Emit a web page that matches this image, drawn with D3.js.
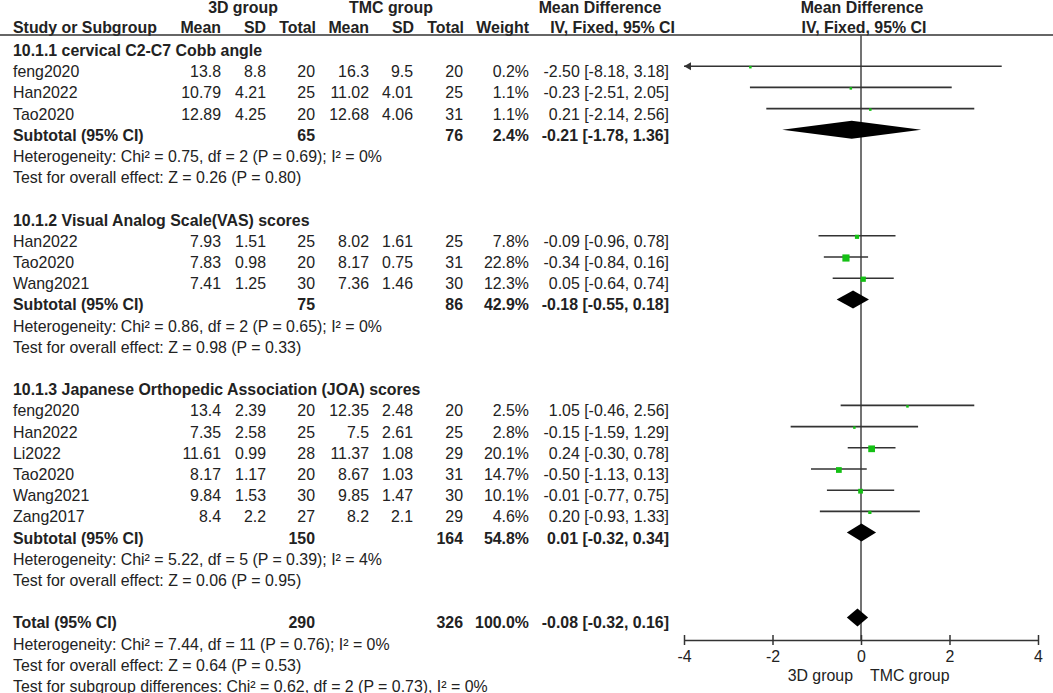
<!DOCTYPE html>
<html>
<head>
<meta charset="utf-8">
<script src="https://cdn.jsdelivr.net/npm/d3@7"></script>
<style>
    body { margin: 0; background: #fff; }
    svg text { font-family: "Liberation Sans", Arial, sans-serif; font-size: 15.9px; fill: #222; }
    .b { font-weight: bold; }
</style>
</head>
<body>
<div id="main"></div>
<script>
// subgroups
var groupTitles = ["10.1.1 cervical C2-C7 Cobb angle", "10.1.2 Visual Analog Scale(VAS) scores",
    "10.1.3 Japanese Orthopedic Association (JOA) scores"];

// studies (group index links them to a subgroup)
var studyGroup = [0, 0, 0, 1, 1, 1, 2, 2, 2, 2, 2, 2];
var studyNames = ["feng2020", "Han2022", "Tao2020", "Han2022", "Tao2020", "Wang2021",
    "feng2020", "Han2022", "Li2022", "Tao2020", "Wang2021", "Zang2017"];
var mean3D = [13.8, 10.79, 12.89, 7.93, 7.83, 7.41, 13.4, 7.35, 11.61, 8.17, 9.84, 8.4];
var sd3D = [8.8, 4.21, 4.25, 1.51, 0.98, 1.25, 2.39, 2.58, 0.99, 1.17, 1.53, 2.2];
var n3D = [20, 25, 20, 25, 20, 30, 20, 25, 28, 20, 30, 27];
var meanTMC = [16.3, 11.02, 12.68, 8.02, 8.17, 7.36, 12.35, 7.5, 11.37, 8.67, 9.85, 8.2];
var sdTMC = [9.5, 4.01, 4.06, 1.61, 0.75, 1.46, 2.48, 2.61, 1.08, 1.03, 1.47, 2.1];
var nTMC = [20, 25, 31, 25, 31, 30, 20, 25, 29, 31, 30, 29];
var weights = [0.2, 1.1, 1.1, 7.8, 22.8, 12.3, 2.5, 2.8, 20.1, 14.7, 10.1, 4.6];
var md = [-2.50, -0.23, 0.21, -0.09, -0.34, 0.05, 1.05, -0.15, 0.24, -0.50, -0.01, 0.20];
var ciLow = [-8.18, -2.51, -2.14, -0.96, -0.84, -0.64, -0.46, -1.59, -0.30, -1.13, -0.77, -0.93];
var ciHigh = [3.18, 2.05, 2.56, 0.78, 0.16, 0.74, 2.56, 1.29, 0.78, 0.13, 0.75, 1.33];

// subtotals
var subN3D = [65, 75, 150];
var subNTMC = [76, 86, 164];
var subWeight = [2.4, 42.9, 54.8];
var subMD = [-0.21, -0.18, 0.01];
var subLow = [-1.78, -0.55, -0.32];
var subHigh = [1.36, 0.18, 0.34];
var subHet = ["Heterogeneity: Chi² = 0.75, df = 2 (P = 0.69); I² = 0%",
    "Heterogeneity: Chi² = 0.86, df = 2 (P = 0.65); I² = 0%",
    "Heterogeneity: Chi² = 5.22, df = 5 (P = 0.39); I² = 4%"];
var subEffect = ["Test for overall effect: Z = 0.26 (P = 0.80)",
    "Test for overall effect: Z = 0.98 (P = 0.33)",
    "Test for overall effect: Z = 0.06 (P = 0.95)"];

// overall
var totalN = [290, 326];
var totalWeight = 100.0;
var totalMD = [-0.08, -0.32, 0.16];
var totalNotes = ["Heterogeneity: Chi² = 7.44, df = 11 (P = 0.76); I² = 0%",
    "Test for overall effect: Z = 0.64 (P = 0.53)",
    "Test for subgroup differences: Chi² = 0.62, df = 2 (P = 0.73), I² = 0%"];

var axisTicks = [-4, -2, 0, 2, 4];
var favourLabels = ["3D group", "TMC group"];

var width = 1053, height = 693;
var rowH = 21.2, rowTop = 45, textOff = 11;
var colRight = {mean1: 221, sd1: 266, n1: 315, mean2: 369, sd2: 413, n2: 463, w: 529, ci: 669};
var lineColor = "#333";
var boxColor = "#14c014";

var svg = d3.select('#main').append('svg').attr('width', width).attr('height', height);
var x = d3.scaleLinear().domain([-4, 4]).range([684, 1038]);

function lineY(r) { return rowTop + r * rowH; }
function ciText(m, lo, hi) { return m.toFixed(2) + " [" + lo.toFixed(2) + ", " + hi.toFixed(2) + "]"; }

function txt(str, xp, yp, anchor, bold) {
    svg.append("text").attr("x", xp).attr("y", yp)
        .attr("text-anchor", anchor || "start")
        .attr("class", bold ? "b" : null)
        .text(str);
}

// header
txt("3D group", 243, 13, "middle", true);
txt("TMC group", 391, 13, "middle", true);
txt("Mean Difference", 600, 13, "middle", true);
txt("Mean Difference", 862, 13, "middle", true);
txt("Study or Subgroup", 13, 33, "start", true);
txt("Mean", colRight.mean1, 33, "end", true);
txt("SD", colRight.sd1, 33, "end", true);
txt("Total", colRight.n1 + 1, 33, "end", true);
txt("Mean", colRight.mean2, 33, "end", true);
txt("SD", colRight.sd2 + 1, 33, "end", true);
txt("Total", colRight.n2 + 1, 33, "end", true);
txt("Weight", colRight.w, 33, "end", true);
txt("IV, Fixed, 95% CI", 675, 33, "end", true);
txt("IV, Fixed, 95% CI", 864, 33, "middle", true);

svg.append("line").attr("x1", 0).attr("x2", width).attr("y1", 35).attr("y2", 35)
    .attr("stroke", lineColor).attr("stroke-width", 1.5);

// zero line
svg.append("line").attr("x1", x(0)).attr("x2", x(0)).attr("y1", 35).attr("y2", 640)
    .attr("stroke", "#444").attr("stroke-width", 1.5);

function diamond(r, m, lo, hi) {
    var y = lineY(r);
    svg.append("polygon")
        .attr("points", [[x(lo), y], [x(m), y - 9], [x(hi), y], [x(m), y + 9]].join(" "))
        .attr("fill", "#000");
}

var r = 0;
for (var g = 0; g < groupTitles.length; g++) {
    txt(groupTitles[g], 13, lineY(r) + textOff, "start", true);
    r++;
    for (var i = 0; i < studyNames.length; i++) {
        if (studyGroup[i] !== g) continue;
        var ty = lineY(r) + textOff;
        txt(studyNames[i], 13, ty);
        txt(String(mean3D[i]), colRight.mean1, ty, "end");
        txt(String(sd3D[i]), colRight.sd1, ty, "end");
        txt(String(n3D[i]), colRight.n1, ty, "end");
        txt(String(meanTMC[i]), colRight.mean2, ty, "end");
        txt(String(sdTMC[i]), colRight.sd2, ty, "end");
        txt(String(nTMC[i]), colRight.n2, ty, "end");
        txt(weights[i].toFixed(1) + "%", colRight.w, ty, "end");
        txt(ciText(md[i], ciLow[i], ciHigh[i]), colRight.ci, ty, "end");

        // CI line, clipped to the axis with an arrow
        var ly = lineY(r);
        var lo = Math.max(ciLow[i], x.domain()[0]), hi = Math.min(ciHigh[i], x.domain()[1]);
        svg.append("line").attr("x1", x(lo)).attr("x2", x(hi)).attr("y1", ly).attr("y2", ly)
            .attr("stroke", lineColor).attr("stroke-width", 1.6);
        if (ciLow[i] < x.domain()[0]) {
            svg.append("polygon")
                .attr("points", [[x(lo), ly], [x(lo) + 7, ly - 4], [x(lo) + 7, ly + 4]].join(" "))
                .attr("fill", lineColor);
        }
        var s = Math.max(2.5, 1.5 * Math.sqrt(weights[i]));
        svg.append("rect").attr("x", x(md[i]) - s / 2).attr("y", ly - s / 2 + 1)
            .attr("width", s).attr("height", s).attr("fill", boxColor);
        r++;
    }
    var sy = lineY(r) + textOff;
    txt("Subtotal (95% CI)", 13, sy, "start", true);
    txt(String(subN3D[g]), colRight.n1, sy, "end", true);
    txt(String(subNTMC[g]), colRight.n2, sy, "end", true);
    txt(subWeight[g].toFixed(1) + "%", colRight.w, sy, "end", true);
    txt(ciText(subMD[g], subLow[g], subHigh[g]), colRight.ci, sy, "end", true);
    diamond(r, subMD[g], subLow[g], subHigh[g]);
    r++;
    txt(subHet[g], 13, lineY(r) + textOff);
    r++;
    txt(subEffect[g], 13, lineY(r) + textOff);
    r += 2;
}

var tyT = lineY(r) + textOff;
txt("Total (95% CI)", 13, tyT, "start", true);
txt(String(totalN[0]), colRight.n1, tyT, "end", true);
txt(String(totalN[1]), colRight.n2, tyT, "end", true);
txt(totalWeight.toFixed(1) + "%", colRight.w, tyT, "end", true);
txt(ciText(totalMD[0], totalMD[1], totalMD[2]), colRight.ci, tyT, "end", true);
diamond(r, totalMD[0], totalMD[1], totalMD[2]);
r++;
totalNotes.forEach(function (t) {
    txt(t, 13, lineY(r) + textOff);
    r++;
});

// axis
var axis = d3.axisBottom(x).tickValues(axisTicks).tickSize(5).tickSizeOuter(0).tickPadding(6)
    .tickFormat(function (d) { return String(d); });
var ag = svg.append("g").attr("transform", "translate(0,640)").call(axis);
ag.select(".domain").attr("stroke", lineColor).attr("stroke-width", 1.5);
ag.selectAll(".tick line").attr("y1", -5).attr("y2", 5).attr("stroke", lineColor).attr("stroke-width", 1.5);
ag.selectAll(".tick text").attr("fill", "#222");
ag.attr("font-family", null).attr("font-size", null);

txt(favourLabels[0], x(0) - 8, 681, "end");
txt(favourLabels[1], x(0) + 9, 681, "start");
</script>
</body>
</html>
